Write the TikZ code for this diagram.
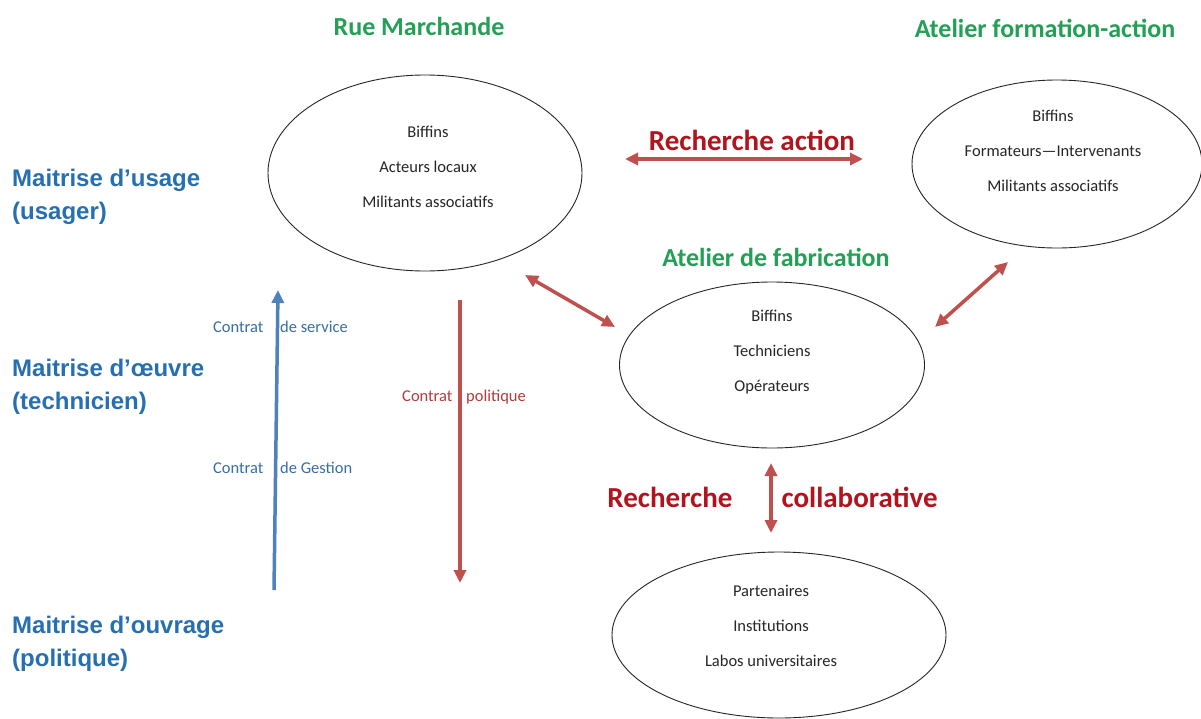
\documentclass[tikz,border=0pt]{standalone}
\usepackage{fontspec}
\setmainfont{Carlito}
\newfontfamily\arialfont{Liberation Sans}
\usetikzlibrary{arrows.meta,shapes.geometric}
\definecolor{greenlab}{RGB}{35,160,85}
\definecolor{darkred}{RGB}{178,20,30}
\definecolor{arrowred}{RGB}{192,80,77}
\definecolor{arrowblue}{RGB}{79,129,189}
\definecolor{levelblue}{RGB}{38,112,178}
\definecolor{contractblue}{RGB}{55,110,165}
\definecolor{contractred}{RGB}{180,60,60}
\begin{document}
\begin{tikzpicture}[x=1pt,y=-1pt,
  oval/.style={draw=black!85, line width=0.9pt, ellipse, inner sep=0pt},
  members/.style={align=center, font=\fontsize{16.5}{35}\selectfont, text=black!85},
  place/.style={font=\bfseries\fontsize{26}{30}\selectfont, text=greenlab},
  research/.style={font=\bfseries\fontsize{29}{32}\selectfont, text=darkred},
  level/.style={anchor=west, align=left, inner sep=0pt, font=\arialfont\bfseries\fontsize{24}{33}\selectfont, text=levelblue},
  contract/.style={anchor=west, inner sep=0pt, font=\fontsize{16.5}{20}\selectfont},
  link/.style={draw=arrowred, line width=3.5pt, {Triangle[length=13pt,width=12pt]}-{Triangle[length=13pt,width=12pt]}},
  flow/.style={line width=3.5pt, -{Triangle[length=13pt,width=12pt]}},
]
\path[use as bounding box, fill=white] (0,0) rectangle (1201,718);

% ellipses
\node[oval, minimum width=314pt, minimum height=196pt] (rue) at (425,173) {};
\node[oval, minimum width=290pt, minimum height=168pt] (form) at (1057,164) {};
\node[oval, minimum width=305pt, minimum height=166pt] (fab) at (772,365) {};
\node[oval, minimum width=334pt, minimum height=166pt] (part) at (779,635) {};

% members
\node[members] (ruetext) at (428,167) {Biffins\\Acteurs locaux\\Militants associatifs};
\node[members] (formtext) at (1053,151) {Biffins\\Formateurs—Intervenants\\Militants associatifs};
\node[members] (fabtext) at (772,352) {Biffins\\Techniciens\\Opérateurs};
\node[members] (parttext) at (771,626) {Partenaires\\Institutions\\Labos universitaires};

% place titles
\node[place] (ruetitle) at (419,26) {Rue Marchande};
\node[place] (formtitle) at (1045,28) {Atelier formation-action};
\node[place] (fabtitle) at (776,257) {Atelier de fabrication};

% research labels
\node[research] (ra) at (752,140) {Recherche action};
\node[research, anchor=east] (rc1) at (736,497) {Recherche};
\node[research, anchor=west] (rc2) at (778,497) {collaborative};

% levels
\node[level] (usage) at (12,196.5) {Maitrise d’usage\\(usager)};
\node[level] (oeuvre) at (12,386.5) {Maitrise d’œuvre\\(technicien)};
\node[level] (ouvrage) at (12,643.5) {Maitrise d’ouvrage\\(politique)};

% contracts
\node[contract, text=contractblue] (cs) at (213,327) {Contrat\hspace{13pt} de service};
\node[contract, text=contractblue] (cg) at (213,468) {Contrat\hspace{13pt} de Gestion};
\node[contract, text=contractred] (cp) at (402,397) {Contrat\hspace{10pt} politique};

% arrow end points
\coordinate (ra1) at (625,159);
\coordinate (ra2) at (863,159);
\coordinate (rf1) at (525,275);
\coordinate (rf2) at (615,327);
\coordinate (ff1) at (1008,262);
\coordinate (ff2) at (935,327);
\coordinate (rc3) at (771,463);
\coordinate (rc4) at (771,533);
\coordinate (b1) at (274,590);
\coordinate (b2) at (278,290);
\coordinate (r1) at (460,300);
\coordinate (r2) at (460,583);

\draw[link] (ra1) -- (ra2);
\draw[link] (rf1) -- (rf2);
\draw[link] (ff1) -- (ff2);
\draw[link] (rc3) -- (rc4);
\draw[flow, draw=arrowblue] (b1) -- (b2);
\draw[flow, draw=arrowred] (r1) -- (r2);
\end{tikzpicture}
\end{document}
